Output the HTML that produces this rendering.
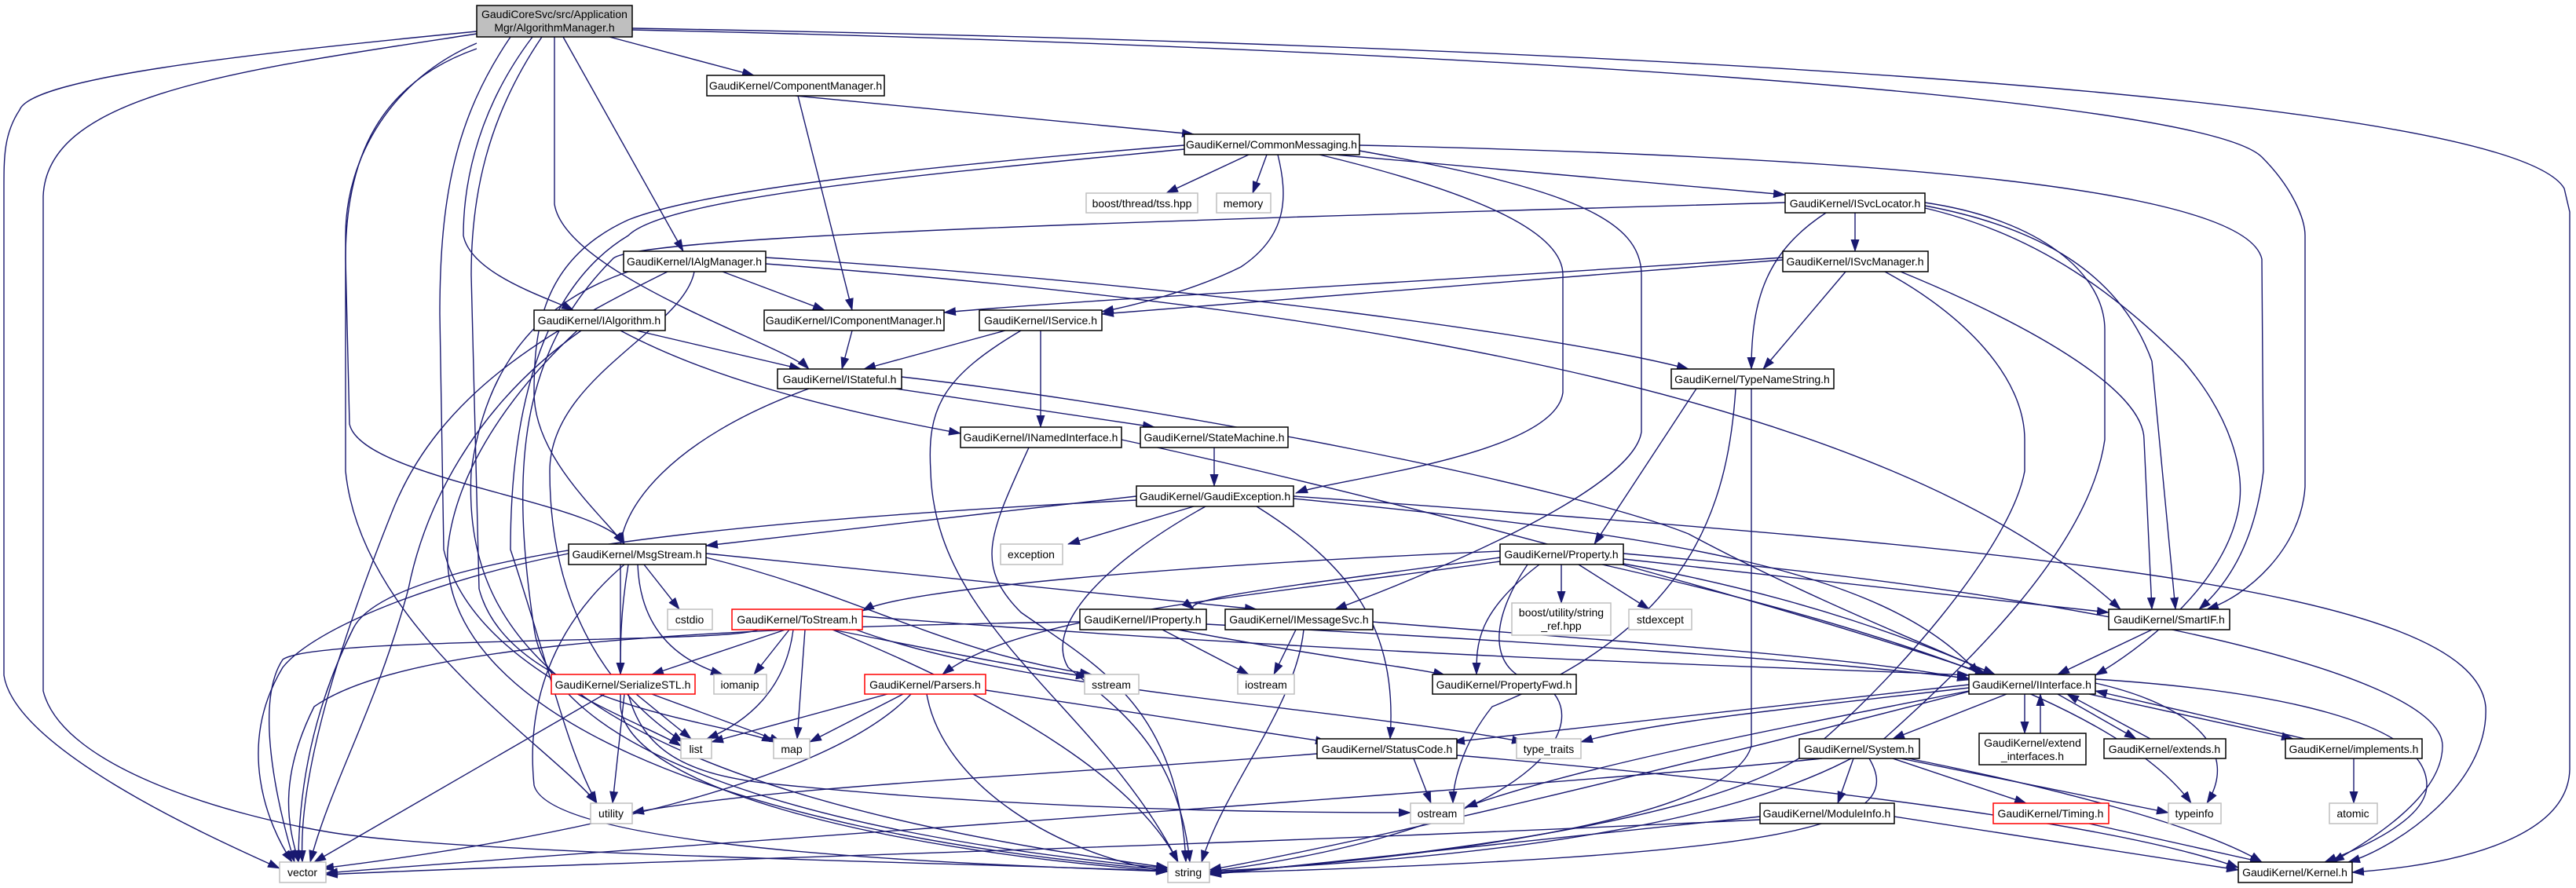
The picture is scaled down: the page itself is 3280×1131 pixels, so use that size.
<!DOCTYPE html>
<html><head><meta charset="utf-8"><style>
html,body{margin:0;padding:0;background:#fff;}
svg{display:block;}
text{font-family:"Liberation Sans",sans-serif;font-size:14px;fill:#000;text-anchor:middle;}
.e{fill:none;stroke:#191970;stroke-width:1.4;marker-end:url(#a);}
.n{fill:#fff;stroke:#000;stroke-width:1.5;}
.g{fill:#fff;stroke:#bfbfbf;stroke-width:1.5;}
.r{fill:#fff;stroke:#ff0000;stroke-width:1.5;}
</style></head><body>
<svg width="3280" height="1131" viewBox="0 0 3280 1131" xmlns="http://www.w3.org/2000/svg">
<defs><marker id="a" markerUnits="userSpaceOnUse" markerWidth="16" markerHeight="11" refX="15" refY="5.5" orient="auto"><path d="M0,0 L16,5.5 L0,11 z" fill="#191970"/></marker></defs>
<g>
<path class="e" d="M776,47 L960,96"/>
<path class="e" d="M717,47 L870,320"/>
<path class="e" d="M678,47 C600,150 590,250 590,300 C600,350 700,380 730,395"/>
<path class="e" d="M706,47 L706,260 C720,350 1000,440 1030,470"/>
<path class="e" d="M607,62 C470,110 440,220 440,330 L445,540 C460,610 770,640 795,693"/>
<path class="e" d="M607,40 C300,70 40,100 25,140 C5,170 5,200 5,240 L5,860 C20,960 300,1080 356,1106"/>
<path class="e" d="M607,43 C300,90 60,120 55,250 L55,880 C80,980 300,1040 420,1060 C600,1090 1300,1100 1487,1110"/>
<path class="e" d="M805,38 C1800,60 2800,120 2880,200 C2920,240 2935,280 2935,300 L2935,620 C2930,700 2860,760 2810,776"/>
<path class="e" d="M805,36 C2200,60 3200,130 3265,240 L3272,270 L3272,980 C3270,1060 3150,1100 2995,1111"/>
<path class="e" d="M607,55 C500,100 440,200 440,300 L440,600 C460,800 700,950 760,1023"/>
<path class="e" d="M690,47 C620,150 600,250 600,350 L610,750 C650,900 930,920 985,945"/>
<path class="e" d="M650,47 C580,150 560,250 560,400 L565,700 C600,850 820,920 867,950"/>
<path class="e" d="M1013,122 L1520,171"/>
<path class="e" d="M1016,122 L1085,395"/>
<path class="e" d="M1590,197 L1485,246"/>
<path class="e" d="M1613,197 L1595,246"/>
<path class="e" d="M1627,197 C1640,250 1640,300 1580,340 C1520,370 1440,390 1403,397"/>
<path class="e" d="M1700,197 L2273,248"/>
<path class="e" d="M1731,185 C2400,200 2860,240 2880,330 L2882,600 C2870,700 2830,750 2800,776"/>
<path class="e" d="M1680,197 C1900,250 1990,300 1990,350 L1990,500 C1980,580 1700,610 1650,628"/>
<path class="e" d="M1731,192 C2000,240 2090,280 2090,350 L2090,550 C2080,620 1850,720 1700,776"/>
<path class="e" d="M1508,185 C1200,210 900,240 800,280 C690,330 680,420 680,500 C680,580 760,650 795,693"/>
<path class="e" d="M1508,190 C1200,220 850,250 800,300 C700,360 650,500 650,700 C700,850 720,950 760,1023"/>
<path class="e" d="M2362,271 L2362,320"/>
<path class="e" d="M2325,271 C2250,320 2230,380 2230,470"/>
<path class="e" d="M2451,262 C2600,290 2700,350 2740,460 L2770,776"/>
<path class="e" d="M2451,265 C2600,300 2700,380 2780,460 C2840,530 2860,600 2850,650 C2830,750 2720,830 2668,860"/>
<path class="e" d="M2451,258 C2600,280 2680,350 2680,420 L2680,560 C2660,700 2500,850 2400,940 C2200,1080 1700,1100 1540,1110"/>
<path class="e" d="M2273,258 C1500,280 800,300 780,330 C660,450 650,600 680,800 C700,950 1000,1060 1487,1106"/>
<path class="e" d="M2270,328 C1800,360 1400,380 1202,398"/>
<path class="e" d="M2270,331 C1800,370 1500,390 1403,400"/>
<path class="e" d="M2350,346 L2245,470"/>
<path class="e" d="M2420,346 C2600,420 2730,500 2730,560 L2740,776"/>
<path class="e" d="M2400,346 C2500,400 2578,480 2578,560 L2578,600 C2560,700 2400,880 2300,960 C2150,1060 1700,1100 1540,1112"/>
<path class="e" d="M920,346 L1050,395"/>
<path class="e" d="M975,328 C1500,360 2000,430 2150,470"/>
<path class="e" d="M975,336 C1700,390 2400,500 2700,776"/>
<path class="e" d="M884,346 C870,420 700,480 700,600 C700,800 800,900 870,945"/>
<path class="e" d="M800,346 C700,380 620,450 600,600 C590,800 700,1000 1487,1105"/>
<path class="e" d="M850,346 C700,420 560,500 500,650 C420,850 380,1000 385,1098"/>
<path class="e" d="M810,421 L1020,470"/>
<path class="e" d="M790,421 C900,480 1050,520 1223,552"/>
<path class="e" d="M735,421 C650,500 580,600 570,700 C560,900 900,1060 1487,1108"/>
<path class="e" d="M740,421 C600,520 540,650 520,750 C480,900 420,1000 395,1098"/>
<path class="e" d="M1085,421 L1072,470"/>
<path class="e" d="M1280,421 L1100,470"/>
<path class="e" d="M1325,421 L1325,544"/>
<path class="e" d="M1300,421 C1200,480 1180,520 1185,600 C1190,800 1400,900 1500,1098"/>
<path class="e" d="M1148,480 C1500,520 2000,620 2150,680 C2300,760 2450,820 2540,859"/>
<path class="e" d="M1140,495 L1470,544"/>
<path class="e" d="M1030,495 C850,560 790,650 790,700 L790,900 C800,1000 1100,1080 1487,1110"/>
<path class="e" d="M2160,495 L2030,693"/>
<path class="e" d="M2210,495 C2200,650 2150,800 1900,900 C1860,950 1850,1000 1850,1023"/>
<path class="e" d="M2230,495 L2230,950 C2200,1060 1700,1100 1540,1112"/>
<path class="e" d="M1428,560 C1800,640 2300,780 2530,859"/>
<path class="e" d="M1310,570 C1260,680 1240,720 1300,780 C1400,850 1500,900 1510,1098"/>
<path class="e" d="M1546,570 L1546,619"/>
<path class="e" d="M1447,632 L899,695"/>
<path class="e" d="M1520,645 L1360,693"/>
<path class="e" d="M1535,645 C1400,720 1330,800 1360,850 C1420,900 1500,950 1515,1098"/>
<path class="e" d="M1600,645 C1720,720 1780,800 1770,941"/>
<path class="e" d="M1647,635 C2100,680 2400,720 2520,859"/>
<path class="e" d="M1647,632 C2600,700 3150,750 3165,900 C3170,1000 3050,1080 2990,1098"/>
<path class="e" d="M2067,705 C2600,750 3110,850 3110,950 C3110,1020 3000,1080 2970,1098"/>
<path class="e" d="M2668,865 C2900,880 3090,920 3090,1000 C3090,1050 2980,1090 2960,1098"/>
<path class="e" d="M1447,637 C1000,660 500,700 450,800 C400,900 380,1000 380,1098"/>
<path class="e" d="M820,719 L865,776"/>
<path class="e" d="M812,719 C815,800 860,840 920,859"/>
<path class="e" d="M800,719 C790,780 790,820 790,859"/>
<path class="e" d="M899,705 L1600,776"/>
<path class="e" d="M899,710 C1100,760 1200,830 1390,859"/>
<path class="e" d="M795,719 C700,800 670,900 680,1000 C700,1080 1200,1100 1487,1110"/>
<path class="e" d="M724,705 C550,740 400,800 360,850 C300,950 340,1050 372,1098"/>
<path class="e" d="M1910,702 C1500,720 1150,750 1098,778"/>
<path class="e" d="M1910,710 C1700,740 1500,760 1520,776"/>
<path class="e" d="M1988,719 L1988,768"/>
<path class="e" d="M2010,719 L2100,776"/>
<path class="e" d="M2067,712 L2685,780"/>
<path class="e" d="M1960,719 C1880,780 1880,820 1880,859"/>
<path class="e" d="M1910,715 C1600,760 1300,780 1200,859"/>
<path class="e" d="M2067,718 C2300,760 2450,820 2540,859"/>
<path class="e" d="M1945,719 C1890,800 1900,860 1960,870 C2030,900 2000,1050 1540,1110"/>
<path class="e" d="M2040,719 C2400,800 2700,900 2790,1023"/>
<path class="e" d="M1000,802 L830,859"/>
<path class="e" d="M1005,802 L960,859"/>
<path class="e" d="M1010,802 C1000,880 950,920 900,941"/>
<path class="e" d="M1025,802 L1015,941"/>
<path class="e" d="M1060,802 C1200,830 1300,850 1385,862"/>
<path class="e" d="M1060,802 C1300,900 1450,1000 1500,1098"/>
<path class="e" d="M965,802 C930,820 400,810 360,840 C320,900 360,1050 375,1098"/>
<path class="e" d="M1090,802 C1300,880 1700,900 1940,945"/>
<path class="e" d="M1098,785 C1800,840 2300,850 2507,860"/>
<path class="e" d="M1480,802 L1590,859"/>
<path class="e" d="M1500,802 C1700,840 1800,850 1840,860"/>
<path class="e" d="M1536,795 C2000,820 2300,840 2507,864"/>
<path class="e" d="M1375,792 C800,800 500,830 400,900 C350,1000 370,1060 380,1098"/>
<path class="e" d="M1650,802 L1622,859"/>
<path class="e" d="M1748,792 C2100,820 2400,840 2507,866"/>
<path class="e" d="M1660,802 C1650,900 1560,1000 1530,1098"/>
<path class="e" d="M2740,802 L2620,859"/>
<path class="e" d="M810,884 L880,941"/>
<path class="e" d="M830,884 L995,945"/>
<path class="e" d="M795,884 L780,1023"/>
<path class="e" d="M770,884 L400,1098"/>
<path class="e" d="M800,884 C820,960 880,990 1000,1000 C1300,1030 1600,1035 1796,1035"/>
<path class="e" d="M1130,884 L906,945"/>
<path class="e" d="M1150,884 L1031,945"/>
<path class="e" d="M1160,884 C1050,1000 700,1070 410,1106"/>
<path class="e" d="M1180,884 C1200,1000 1350,1090 1487,1110"/>
<path class="e" d="M1255,879 L1690,945"/>
<path class="e" d="M2507,872 L1850,945"/>
<path class="e" d="M2555,884 L2410,941"/>
<path class="e" d="M2578,884 L2578,934"/>
<path class="e" d="M2598,934 L2598,884"/>
<path class="e" d="M2620,884 L2720,941"/>
<path class="e" d="M2738,941 L2632,884"/>
<path class="e" d="M2660,884 L2920,941"/>
<path class="e" d="M2935,941 L2668,880"/>
<path class="e" d="M2668,870 C2800,900 2850,960 2810,1023"/>
<path class="e" d="M2507,880 C2200,940 2000,980 1866,1028"/>
<path class="e" d="M2507,876 C2300,900 2100,920 2013,945"/>
<path class="e" d="M2510,880 C2200,960 1800,1060 1540,1108"/>
<path class="e" d="M2997,966 L2997,1023"/>
<path class="e" d="M1800,966 L1822,1023"/>
<path class="e" d="M1677,960 C1300,990 1000,1000 805,1035"/>
<path class="e" d="M1855,962 C2300,1000 2700,1050 2850,1105"/>
<path class="e" d="M2360,966 L2340,1023"/>
<path class="e" d="M2410,966 L2580,1023"/>
<path class="e" d="M2420,966 L2761,1035"/>
<path class="e" d="M2430,966 C2600,1000 2800,1050 2880,1098"/>
<path class="e" d="M2380,966 C2430,1050 2300,1090 1540,1112"/>
<path class="e" d="M2320,966 C2000,1000 800,1080 415,1112"/>
<path class="e" d="M2412,1040 L2850,1108"/>
<path class="e" d="M2241,1040 L1540,1114"/>
<path class="e" d="M2241,1044 C1500,1080 700,1100 415,1114"/>
<path class="e" d="M2660,1049 L2880,1098"/>
</g>
<g>
<rect x="607" y="7" width="198" height="40" fill="#bfbfbf" stroke="#000" stroke-width="1.5"/>
<text x="706" y="23">GaudiCoreSvc/src/Application</text><text x="706" y="40">Mgr/AlgorithmManager.h</text>
<rect class="n" x="900" y="96" width="226" height="26"/><text x="1013" y="114">GaudiKernel/ComponentManager.h</text>
<rect class="n" x="1508" y="171" width="223" height="26"/><text x="1619" y="189">GaudiKernel/CommonMessaging.h</text>
<rect class="g" x="1383" y="246" width="142" height="25"/><text x="1454" y="264">boost/thread/tss.hpp</text>
<rect class="g" x="1549" y="246" width="69" height="25"/><text x="1583" y="264">memory</text>
<rect class="n" x="2273" y="246" width="178" height="25"/><text x="2362" y="264">GaudiKernel/ISvcLocator.h</text>
<rect class="n" x="2270" y="320" width="185" height="26"/><text x="2362" y="338">GaudiKernel/ISvcManager.h</text>
<rect class="n" x="794" y="320" width="181" height="26"/><text x="884" y="338">GaudiKernel/IAlgManager.h</text>
<rect class="n" x="680" y="395" width="167" height="26"/><text x="763" y="413">GaudiKernel/IAlgorithm.h</text>
<rect class="n" x="973" y="395" width="229" height="26"/><text x="1087" y="413">GaudiKernel/IComponentManager.h</text>
<rect class="n" x="1247" y="395" width="156" height="26"/><text x="1325" y="413">GaudiKernel/IService.h</text>
<rect class="n" x="990" y="470" width="158" height="25"/><text x="1069" y="488">GaudiKernel/IStateful.h</text>
<rect class="n" x="2128" y="470" width="207" height="25"/><text x="2231" y="488">GaudiKernel/TypeNameString.h</text>
<rect class="n" x="1223" y="544" width="205" height="26"/><text x="1325" y="562">GaudiKernel/INamedInterface.h</text>
<rect class="n" x="1452" y="544" width="188" height="26"/><text x="1546" y="562">GaudiKernel/StateMachine.h</text>
<rect class="n" x="1447" y="619" width="200" height="26"/><text x="1547" y="637">GaudiKernel/GaudiException.h</text>
<rect class="n" x="724" y="693" width="175" height="26"/><text x="811" y="711">GaudiKernel/MsgStream.h</text>
<rect class="g" x="1274" y="693" width="79" height="26"/><text x="1313" y="711">exception</text>
<rect class="n" x="1910" y="693" width="157" height="26"/><text x="1988" y="711">GaudiKernel/Property.h</text>
<rect class="g" x="850" y="776" width="57" height="26"/><text x="878" y="794">cstdio</text>
<rect class="r" x="932" y="776" width="166" height="26"/><text x="1015" y="794">GaudiKernel/ToStream.h</text>
<rect class="n" x="1375" y="776" width="161" height="26"/><text x="1455" y="794">GaudiKernel/IProperty.h</text>
<rect class="n" x="1560" y="776" width="188" height="26"/><text x="1654" y="794">GaudiKernel/IMessageSvc.h</text>
<rect class="g" x="1925" y="768" width="126" height="41"/><text x="1988" y="785">boost/utility/string</text><text x="1988" y="802">_ref.hpp</text>
<rect class="g" x="2074" y="776" width="80" height="26"/><text x="2114" y="794">stdexcept</text>
<rect class="n" x="2685" y="776" width="154" height="26"/><text x="2762" y="794">GaudiKernel/SmartIF.h</text>
<rect class="r" x="702" y="859" width="183" height="25"/><text x="793" y="877">GaudiKernel/SerializeSTL.h</text>
<rect class="g" x="909" y="859" width="67" height="25"/><text x="942" y="877">iomanip</text>
<rect class="r" x="1101" y="859" width="154" height="25"/><text x="1178" y="877">GaudiKernel/Parsers.h</text>
<rect class="g" x="1381" y="859" width="69" height="25"/><text x="1415" y="877">sstream</text>
<rect class="g" x="1576" y="859" width="72" height="25"/><text x="1612" y="877">iostream</text>
<rect class="n" x="1824" y="859" width="183" height="25"/><text x="1915" y="877">GaudiKernel/PropertyFwd.h</text>
<rect class="n" x="2507" y="859" width="161" height="25"/><text x="2587" y="877">GaudiKernel/IInterface.h</text>
<rect class="g" x="867" y="941" width="39" height="25"/><text x="886" y="959">list</text>
<rect class="g" x="985" y="941" width="46" height="25"/><text x="1008" y="959">map</text>
<rect class="n" x="1677" y="941" width="178" height="25"/><text x="1766" y="959">GaudiKernel/StatusCode.h</text>
<rect class="g" x="1931" y="941" width="82" height="25"/><text x="1972" y="959">type_traits</text>
<rect class="n" x="2291" y="941" width="153" height="25"/><text x="2367" y="959">GaudiKernel/System.h</text>
<rect class="n" x="2520" y="934" width="136" height="40"/><text x="2588" y="951">GaudiKernel/extend</text><text x="2588" y="968">_interfaces.h</text>
<rect class="n" x="2679" y="941" width="155" height="25"/><text x="2756" y="959">GaudiKernel/extends.h</text>
<rect class="n" x="2910" y="941" width="174" height="25"/><text x="2997" y="959">GaudiKernel/implements.h</text>
<rect class="g" x="752" y="1023" width="53" height="26"/><text x="778" y="1041">utility</text>
<rect class="g" x="1796" y="1023" width="68" height="26"/><text x="1830" y="1041">ostream</text>
<rect class="n" x="2241" y="1023" width="171" height="26"/><text x="2326" y="1041">GaudiKernel/ModuleInfo.h</text>
<rect class="r" x="2538" y="1023" width="147" height="26"/><text x="2611" y="1041">GaudiKernel/Timing.h</text>
<rect class="g" x="2761" y="1023" width="67" height="26"/><text x="2794" y="1041">typeinfo</text>
<rect class="g" x="2966" y="1023" width="61" height="26"/><text x="2996" y="1041">atomic</text>
<rect class="g" x="356" y="1098" width="59" height="26"/><text x="385" y="1116">vector</text>
<rect class="g" x="1487" y="1098" width="53" height="26"/><text x="1513" y="1116">string</text>
<rect class="n" x="2850" y="1098" width="145" height="26"/><text x="2922" y="1116">GaudiKernel/Kernel.h</text>
</g>
</svg>
</body></html>
